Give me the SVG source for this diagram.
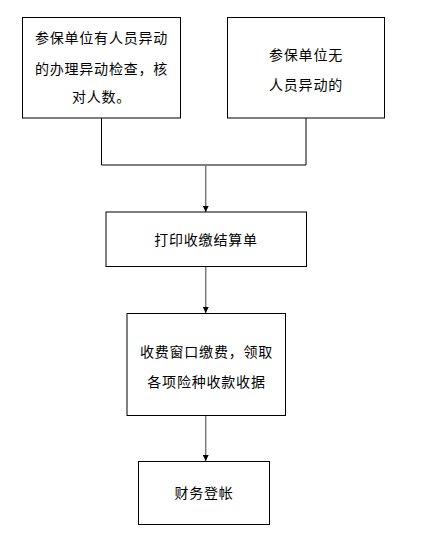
<svg xmlns="http://www.w3.org/2000/svg" width="422" height="546" viewBox="0 0 422 546">
<style>
.box{fill:#fff;stroke:#000;stroke-width:1}
.t{font-family:"Noto Sans CJK SC","Liberation Sans",sans-serif;font-size:14px;fill:#000;text-anchor:middle;letter-spacing:0.8px}
.ln{fill:none;stroke:#000;stroke-width:1}
.ar{fill:none;stroke:#7a7a7a;stroke-width:1.5}
</style>
<defs>
<marker id="ah" viewBox="0 0 6 6" refX="6" refY="3" markerWidth="6" markerHeight="6" markerUnits="userSpaceOnUse" orient="auto">
<path d="M0,0 L6,3 L0,6 z" fill="#000"/>
</marker>
</defs>
<rect width="422" height="546" fill="#fff"/>
<g id="connectors">
<path class="ln" d="M101.5,118 V165 H306 V118"/>
<path class="ar" d="M205.7,165 V212" marker-end="url(#ah)"/>
<path class="ar" d="M205.7,266.5 V313" marker-end="url(#ah)"/>
<path class="ar" d="M205.7,415.5 V461" marker-end="url(#ah)"/>
</g>
<g id="n1">
<rect class="box" x="22.5" y="17.5" width="158" height="100.5"/>
<text class="t" x="101.5" y="43">参保单位有人员异动</text>
<text class="t" x="101.5" y="74">的办理异动检查，核</text>
<text class="t" x="101.5" y="102">对人数。</text>
</g>
<g id="n2">
<rect class="box" x="227.5" y="17.5" width="157" height="100.5"/>
<text class="t" x="306" y="60">参保单位无</text>
<text class="t" x="306" y="90">人员异动的</text>
</g>
<g id="n3">
<rect class="box" x="106" y="212" width="200.5" height="54.5"/>
<text class="t" x="206" y="245">打印收缴结算单</text>
</g>
<g id="n4">
<rect class="box" x="127" y="313.5" width="158.5" height="102"/>
<text class="t" x="206.5" y="357">收费窗口缴费，领取</text>
<text class="t" x="206.5" y="387">各项险种收款收据</text>
</g>
<g id="n5">
<rect class="box" x="138.5" y="461.5" width="131" height="63"/>
<text class="t" x="204" y="498">财务登帐</text>
</g>
</svg>
